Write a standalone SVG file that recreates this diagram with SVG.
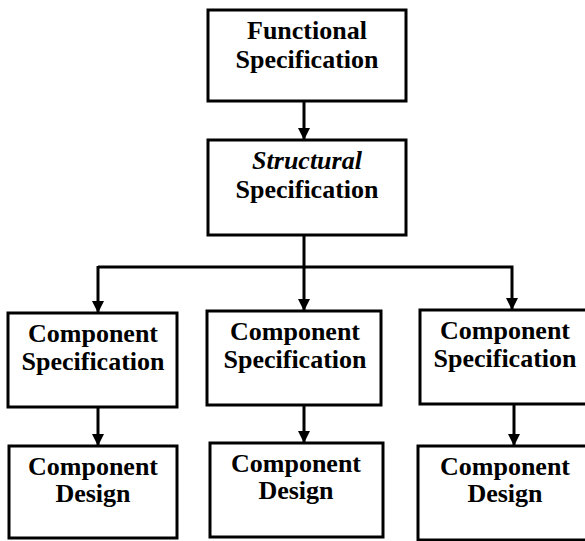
<svg xmlns="http://www.w3.org/2000/svg" width="585" height="541" viewBox="0 0 585 541">
  <defs>
    <marker id="arrow" viewBox="0 0 12 12" markerWidth="12" markerHeight="12" refX="12" refY="6" orient="auto" markerUnits="userSpaceOnUse">
      <path d="M0,0 L12,6 L0,12 Z" fill="#000"/>
    </marker>
  </defs>
  <style>
    .box { fill: #fff; stroke: #000; stroke-width: 3; }
    .lbl { font-family: "Liberation Serif", "Times New Roman", serif; font-weight: bold; font-size: 26px; fill: #000; text-anchor: middle; }
    .it { font-style: italic; }
    .wire { fill: none; stroke: #000; stroke-width: 3; }
  </style>
  <rect width="585" height="541" fill="#fff"/>

  <g id="connectors">
    <line class="wire" x1="304" y1="101" x2="304" y2="140" marker-end="url(#arrow)"/>
    <polyline class="wire" points="98,267 512,267 512,310" marker-end="url(#arrow)"/>
    <line class="wire" x1="98" y1="266" x2="98" y2="313" marker-end="url(#arrow)"/>
    <line class="wire" x1="304" y1="235" x2="304" y2="311" marker-end="url(#arrow)"/>
    <line class="wire" x1="98" y1="407" x2="98" y2="446" marker-end="url(#arrow)"/>
    <line class="wire" x1="304" y1="405" x2="304" y2="443" marker-end="url(#arrow)"/>
    <line class="wire" x1="514" y1="404" x2="514" y2="446" marker-end="url(#arrow)"/>
  </g>

  <g id="functional-spec">
    <rect class="box" x="208" y="10" width="198" height="91"/>
    <text class="lbl" x="307" y="39">Functional</text>
    <text class="lbl" x="307" y="68">Specification</text>
  </g>

  <g id="structural-spec">
    <rect class="box" x="208" y="140" width="198" height="95"/>
    <text class="lbl it" x="307" y="169">Structural</text>
    <text class="lbl" x="307" y="198">Specification</text>
  </g>

  <g id="component-spec-1">
    <rect class="box" x="8" y="313" width="169" height="94"/>
    <text class="lbl" x="93" y="342">Component</text>
    <text class="lbl" x="93" y="370">Specification</text>
  </g>

  <g id="component-spec-2">
    <rect class="box" x="207" y="311" width="174" height="94"/>
    <text class="lbl" x="295" y="340">Component</text>
    <text class="lbl" x="295" y="368">Specification</text>
  </g>

  <g id="component-spec-3">
    <rect class="box" x="420" y="310" width="170" height="94"/>
    <text class="lbl" x="505" y="339">Component</text>
    <text class="lbl" x="505" y="367">Specification</text>
  </g>

  <g id="component-design-1">
    <rect class="box" x="9" y="446" width="168" height="92"/>
    <text class="lbl" x="93" y="475">Component</text>
    <text class="lbl" x="93" y="502">Design</text>
  </g>

  <g id="component-design-2">
    <rect class="box" x="210" y="443" width="173" height="94"/>
    <text class="lbl" x="296" y="472">Component</text>
    <text class="lbl" x="296" y="499">Design</text>
  </g>

  <g id="component-design-3">
    <rect class="box" x="418" y="446" width="172" height="94"/>
    <text class="lbl" x="505" y="475">Component</text>
    <text class="lbl" x="505" y="502">Design</text>
  </g>
</svg>
